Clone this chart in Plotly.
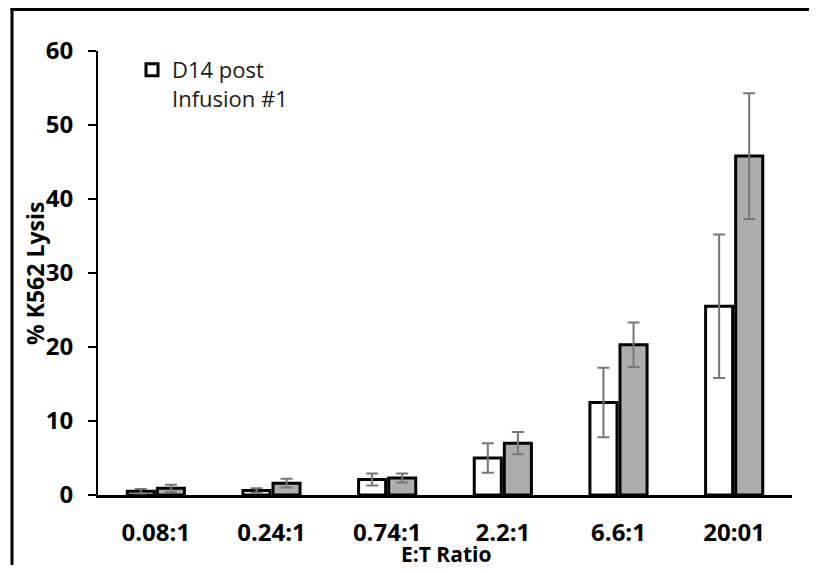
import plotly.graph_objects as go

categories = ["0.08:1", "0.24:1", "0.74:1", "2.2:1", "6.6:1", "20:01"]
d14_values = [0.5, 0.6, 2.1, 5.0, 12.5, 25.5]
d14_errors = [0.3, 0.3, 0.8, 2.0, 4.7, 9.7]
second_values = [0.9, 1.6, 2.3, 7.0, 20.3, 45.8]
second_errors = [0.5, 0.6, 0.6, 1.5, 3.0, 8.5]
y_ticks = [0, 10, 20, 30, 40, 50, 60]

FONT = "Open Sans"

fig = go.Figure()
fig.add_trace(go.Bar(
    x=categories, y=d14_values, name="D14 post<br>Infusion #1",
    marker=dict(color="white", line=dict(color="black", width=3)),
    error_y=dict(type="data", array=d14_errors, color="#777777", thickness=2, width=6),
    showlegend=True,
))
fig.add_trace(go.Bar(
    x=categories, y=second_values, name="series 2",
    marker=dict(color="#adadad", line=dict(color="black", width=3)),
    error_y=dict(type="data", array=second_errors, color="#777777", thickness=2, width=6),
    showlegend=False,
))

# the figure sits 8px into the page (default body margin)
OFF = 8
W, H = 801, 557
L, T, B = 90, 43, 70
R = W - L - 694
pw, ph = W - L - R, H - T - B

def px(x):  # page x -> paper
    return (x - OFF - L) / pw

def py(y):  # page y -> paper
    return (H - B - (y - OFF)) / ph

fig.update_layout(
    width=W, height=H,
    margin=dict(l=L, r=R, t=T, b=B),
    paper_bgcolor="white", plot_bgcolor="white",
    barmode="group", bargap=0.48, bargroupgap=0.1,
    font=dict(family=FONT, color="black"),
    legend=dict(
        x=px(132), y=py(49), xanchor="left", yanchor="top",
        bgcolor="rgba(0,0,0,0)", valign="top",
        font=dict(family=FONT, size=22, color="#1a1a1a"),
    ),
    xaxis=dict(
        type="category", showline=True, linecolor="black", linewidth=3,
        ticks="", showgrid=False, zeroline=False,
        tickfont=dict(family=FONT, size=24, weight="bold", color="black"),
        ticklabelstandoff=14,
    ),
    yaxis=dict(
        range=[0, 60], tickvals=y_ticks, showline=True, linecolor="black", linewidth=2,
        ticks="outside", ticklen=8, tickwidth=2, tickcolor="black",
        showgrid=False, zeroline=False,
        tickfont=dict(family=FONT, size=24, weight="bold", color="black"),
        ticklabelstandoff=10,
    ),
    shapes=[
        dict(type="rect", xref="paper", yref="paper",
             x0=px(10.5), x1=px(13.5), y0=py(565), y1=py(8),
             fillcolor="black", line=dict(width=0)),
        dict(type="rect", xref="paper", yref="paper",
             x0=px(10.5), x1=px(809), y0=py(11), y1=py(8),
             fillcolor="black", line=dict(width=0)),
    ],
    annotations=[
        dict(text="% K562 Lysis", xref="paper", yref="paper", x=px(35), y=py(274),
             xanchor="center", yanchor="middle", textangle=-90, showarrow=False,
             font=dict(family=FONT, size=23, weight="bold", color="black")),
        dict(text="E:T Ratio", xref="paper", yref="paper", x=px(446), y=py(554),
             xanchor="center", yanchor="middle", showarrow=False,
             font=dict(family=FONT, size=21, weight="bold", color="black")),
    ],
)

fig.write_html("out.html")
